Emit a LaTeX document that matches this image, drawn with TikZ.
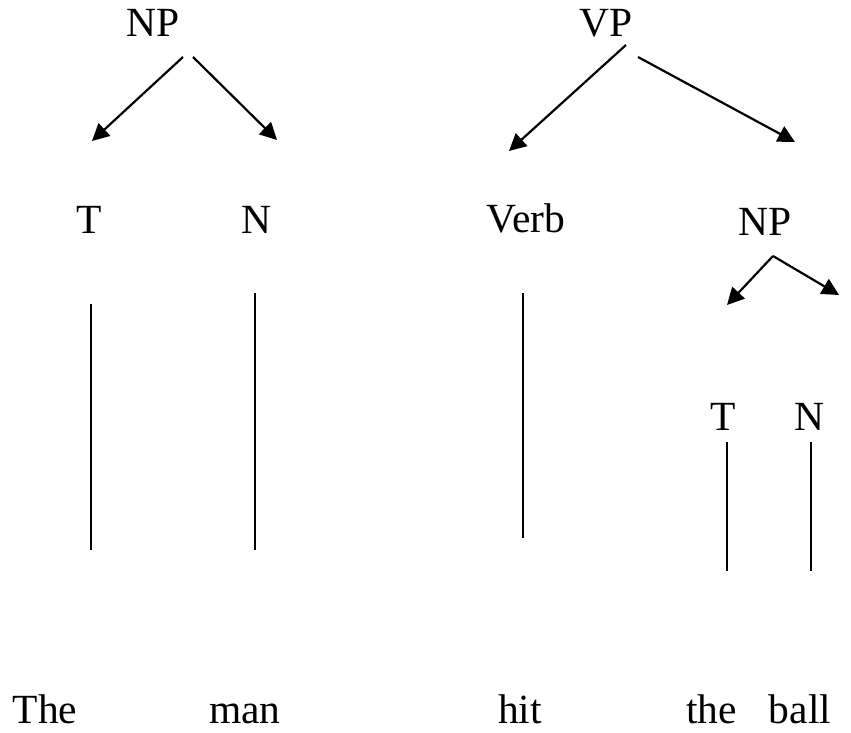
\documentclass[tikz,border=0pt]{standalone}
\usepackage{fontspec}
\setmainfont{Liberation Serif}
\usetikzlibrary{arrows.meta}
\begin{document}
\begin{tikzpicture}[x=1pt,y=-1pt,
  lbl/.style={anchor=base,inner sep=0pt,font=\fontsize{41.5}{48}\selectfont},
  arr/.style={line width=2.2pt,-{Triangle[length=17pt,width=17pt]}},
  stem/.style={line width=1.7pt}]
\useasboundingbox (0,0) rectangle (851,733);
% labels
\node[lbl] (np1) at (153.5,37) {NP};
\node[lbl] (t1) at (89.5,233) {T};
\node[lbl] (n1) at (256,233) {N};
\node[lbl] (vp) at (606.5,37) {VP};
\node[lbl] (verb) at (526,232) {Verb};
\node[lbl] (np2) at (765.5,235) {NP};
\node[lbl] (t2) at (723,430) {T};
\node[lbl] (n2) at (809,430) {N};
\node[lbl] (w1) at (45,723) {The};
\node[lbl] (w2) at (245,723) {man};
\node[lbl] (w3) at (520,723) {hit};
\node[lbl] (w4) at (711.5,723) {the};
\node[lbl] (w5) at (800,723) {ball};
% arrow end points
\coordinate (np1L) at (183,57);
\coordinate (np1R) at (193,57);
\coordinate (t1top) at (92,141);
\coordinate (n1top) at (277,140);
\coordinate (vpL) at (626,45);
\coordinate (vpR) at (638,57);
\coordinate (verbtop) at (509,151);
\coordinate (np2top) at (795,142);
\coordinate (np2b) at (773,256);
\coordinate (t2top) at (727,305);
\coordinate (n2top) at (839,295);
% stem end points
\coordinate (t1a) at (91,304);
\coordinate (t1b) at (91,550);
\coordinate (n1a) at (255,293);
\coordinate (n1b) at (255,550);
\coordinate (verba) at (523,293);
\coordinate (verbb) at (523,538);
\coordinate (t2a) at (727,442);
\coordinate (t2b) at (727,571);
\coordinate (n2a) at (811,442);
\coordinate (n2b) at (811,571);
% arrows
\draw[arr] (np1L) -- (t1top);
\draw[arr] (np1R) -- (n1top);
\draw[arr] (vpL) -- (verbtop);
\draw[arr] (vpR) -- (np2top);
\draw[arr] (np2b) -- (t2top);
\draw[arr] (np2b) -- (n2top);
% stems
\draw[stem] (t1a) -- (t1b);
\draw[stem] (n1a) -- (n1b);
\draw[stem] (verba) -- (verbb);
\draw[stem] (t2a) -- (t2b);
\draw[stem] (n2a) -- (n2b);
\end{tikzpicture}
\end{document}
